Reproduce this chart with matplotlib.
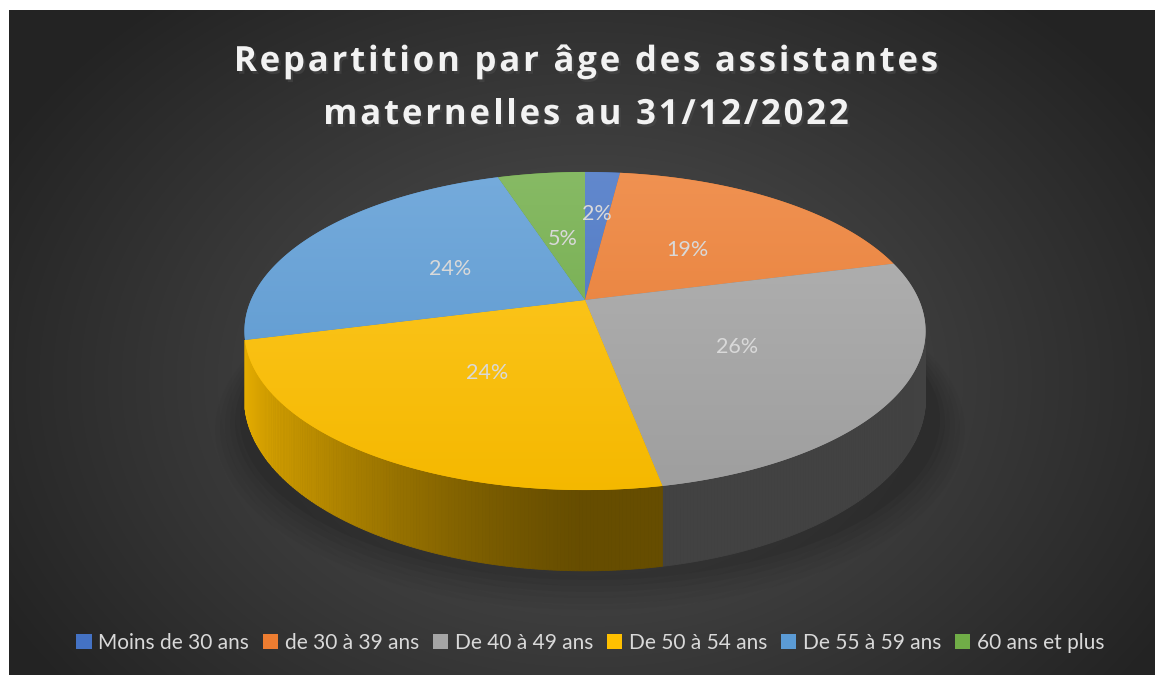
import numpy as np
import matplotlib
matplotlib.use('Agg')
import matplotlib.pyplot as plt
from matplotlib.patches import Polygon, Patch, Ellipse
from matplotlib.colors import to_rgb
from matplotlib.font_manager import FontProperties, findfont
from matplotlib.ft2font import FT2Font
import matplotlib.patheffects as pe

# data
categories = ['Moins de 30 ans', 'de 30 à 39 ans', 'De 40 à 49 ans',
              'De 50 à 54 ans', 'De 55 à 59 ans', '60 ans et plus']
values = [2, 19, 26, 24, 24, 5]
colors = ['#4472C4', '#ED7D31', '#A5A5A5', '#FFC000', '#5B9BD5', '#70AD47']
title_lines = ['Repartition par âge des assistantes', 'maternelles au 31/12/2022']

W, H = 1155, 675

# projection of the tilted disk (pixels)
cx, cy = 585, 300
A, B, K, D = 153, 334, -0.195, 65


def proj(u, v, z=0.0):
    s = 1 + K * v
    return cx + B * u / s, cy + A * v / s + z * D / s


def arc(a0, a1, r=1.0, z=0.0, n=200):
    t = np.radians(np.linspace(a0, a1, n))
    return proj(r * np.sin(t), -r * np.cos(t), z)


def lighten(c, f):
    c = np.array(to_rgb(c))
    return c + (1 - c) * f


def shade(c, f):
    return np.clip(np.array(to_rgb(c)) * f, 0, 1)


def tracked_text(ax, x, y, s, prop, track, **kw):
    # draw a line of text char by char with extra letter spacing (pixels)
    font = FT2Font(findfont(prop))
    font.set_size(prop.get_size_in_points(), 100)
    adv = [font.load_char(ord(ch)).linearHoriAdvance / 65536.0 for ch in s]
    total = sum(adv) + track * (len(s) - 1)
    pos = x - total / 2
    for ch, a in zip(s, adv):
        ax.text(pos, y, ch, fontproperties=prop, ha='left', va='baseline', **kw)
        pos += a + track


fig = plt.figure(figsize=(W / 100, H / 100), dpi=100)
ax = fig.add_axes([0, 0, 1, 1])
ax.set_xlim(0, W)
ax.set_ylim(H, 0)
ax.axis('off')

# background: radial gradient, white strip on top and left
yy, xx = np.mgrid[10:H, 9:W]
dist = np.sqrt(((xx - 590) / 700.0) ** 2 + ((yy - 380) / 520.0) ** 2)
g = np.clip(0.33 - 0.2 * dist, 0.14, 0.33)
ax.imshow(np.dstack([g, g, g]), extent=(9, W, H, 10), zorder=0, aspect='auto')

# shadow under the pie
for i, a in enumerate(np.linspace(0.05, 0.02, 6)):
    ax.add_patch(Ellipse((590, 420 + 2 * i), 700 + 10 * i, 320 + 8 * i,
                         color='black', alpha=a, lw=0, zorder=1))

angles = np.cumsum([0] + values) / sum(values) * 360
phi_r = np.degrees(np.arccos(K))
phi_l = 360 - phi_r

# side walls
for i in range(len(values)):
    a0, a1 = max(angles[i], phi_r), min(angles[i + 1], phi_l)
    if a1 - a0 < 4:
        continue
    steps = np.linspace(a0, a1, max(int((a1 - a0) * 2), 2))
    for s0, s1 in zip(steps[:-1], steps[1:]):
        xt, yt = arc(s0, s1, n=4)
        xb, yb = arc(s0, s1, z=1, n=4)
        u = -np.sin(np.radians((s0 + s1) / 2))
        f = 0.40 + 0.52 * max(u, 0) ** 1.3
        c = shade(colors[i], f)
        pts = np.column_stack([np.r_[xt, xb[::-1]], np.r_[yt, yb[::-1]]])
        ax.add_patch(Polygon(pts, closed=True, fc=c, ec=c, lw=0.6, zorder=2))

# top faces with a soft vertical gradient
ytop, ybot = proj(0, -1)[1], proj(0, 1)[1]
for i in range(len(values)):
    xs, ys = arc(angles[i], angles[i + 1])
    pts = np.column_stack([np.r_[cx, xs], np.r_[cy, ys]])
    poly = Polygon(pts, closed=True, fc=colors[i], lw=0, zorder=3)
    ax.add_patch(poly)
    t = np.linspace(0, 1, 256)[:, None]
    grad = lighten(colors[i], 0.16)[None, :] * (1 - t) + shade(colors[i], 0.96)[None, :] * t
    im = ax.imshow(grad[:, None, :], extent=(240, 932, ybot, ytop),
                   aspect='auto', zorder=4, interpolation='bilinear')
    im.set_clip_path(poly)

# data labels
label_r = [0.66, 0.5, 0.51, 0.5, 0.48, 0.46]
for i, v in enumerate(values):
    mid = np.radians((angles[i] + angles[i + 1]) / 2)
    lx, ly = proj(label_r[i] * np.sin(mid), -label_r[i] * np.cos(mid))
    ax.text(lx, ly + 3, f'{v}%', color='#D9D9D9', fontsize=15.5, family='Lato',
            ha='center', va='center', zorder=6)

# title with letter spacing
tprop = FontProperties(family='Open Sans', weight='bold', size=25)
shadow = [pe.withSimplePatchShadow(offset=(1.5, -2), alpha=0.6)]
for line, base in zip(title_lines, [71, 124]):
    tracked_text(ax, 586, base, line, tprop, 2.8, color='#F2F2F2', zorder=6,
                 path_effects=shadow)

# legend
handles = [Patch(facecolor=c, edgecolor='none') for c in colors]
leg = ax.legend(handles, categories, loc='center', bbox_to_anchor=(0.511, 1 - 643 / H),
                ncol=6, frameon=False, handlelength=0.75,
                handleheight=0.75, handletextpad=0.3, columnspacing=0.66,
                prop={'family': 'Lato', 'size': 15})
for t in leg.get_texts():
    t.set_color('#D9D9D9')

fig.savefig('out.png', dpi=100, facecolor='white')
